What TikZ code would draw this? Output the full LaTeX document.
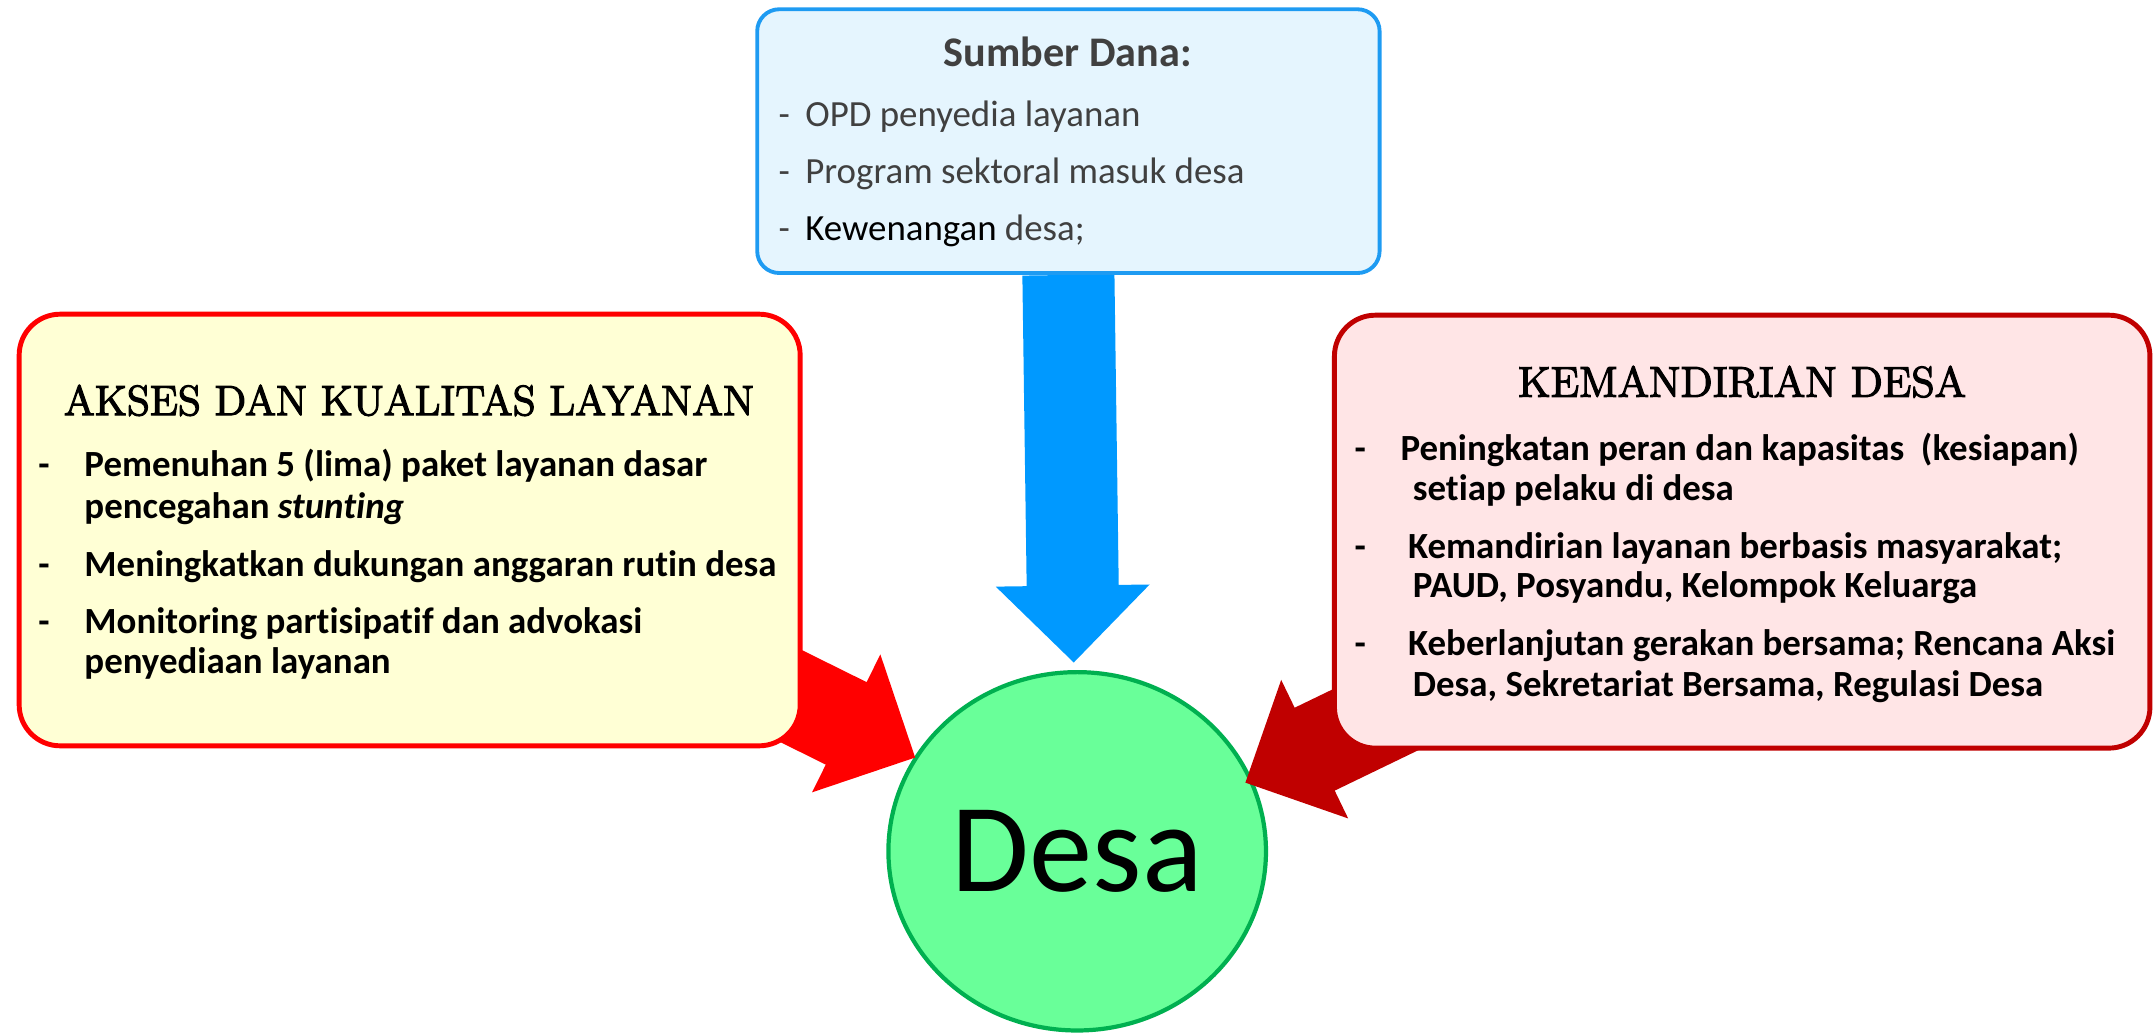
\documentclass[tikz,border=0pt]{standalone}
\usepackage{fontspec}
\setmainfont{Latin Modern Roman}
\newfontfamily\carlito[Ligatures={NoCommon,NoRare,NoContextual}]{Carlito}
\newfontfamily\titleserif[FakeBold=3]{Latin Modern Roman}
\usetikzlibrary{shapes.geometric,calc}

\pgfdeclarelayer{back}
\pgfdeclarelayer{mid}
\pgfsetlayers{back,mid,main}

\definecolor{fundline}{HTML}{1E9BF2}
\definecolor{fundfill}{HTML}{E5F5FE}
\definecolor{fundarrow}{HTML}{0099FF}
\definecolor{accessline}{HTML}{FF0000}
\definecolor{accessfill}{HTML}{FFFFD5}
\definecolor{selfline}{HTML}{C00000}
\definecolor{selffill}{HTML}{FFE5E6}
\definecolor{villagefill}{HTML}{69FF99}
\definecolor{villageline}{HTML}{00B050}
\definecolor{textgray}{HTML}{404040}

\tikzset{
  panel/.style={rectangle, rounded corners=0.41cm, inner sep=0pt},
  itemtext/.style={inner sep=0pt, anchor=base west,
    font=\carlito\bfseries\fontsize{10.5}{12}\selectfont},
  fundtext/.style={inner sep=0pt, anchor=base west, text=textgray,
    font=\carlito\fontsize{10.5}{12}\selectfont},
  headserif/.style={inner sep=0pt, anchor=base},
}

% block arrow: #1 colour, #2 tail, #3 tip (shaft 26.2pt wide, head 43.8pt wide, 21.9pt long)
\newcommand\fatarrow[3]{%
  \path ($(#3)!21.9pt!(#2)$) coordinate (#3-hb);
  \fill[#1] ($(#2)!13.1pt!-90:(#3)$) -- ($(#3-hb)!13.1pt!90:(#2)$)
    -- ($(#3-hb)!21.9pt!90:(#2)$) -- (#3) -- ($(#3-hb)!21.9pt!-90:(#2)$)
    -- ($(#3-hb)!13.1pt!-90:(#2)$) -- ($(#2)!13.1pt!90:(#3)$) -- cycle;}

\begin{document}
\begin{tikzpicture}[x=0.01373cm,y=-0.01373cm]
\useasboundingbox (0,0) rectangle (1568,752);

% central village node
\begin{pgfonlayer}{back}
\node[ellipse, draw=villageline, fill=villagefill, line width=1.2pt,
  minimum width=3.776cm, minimum height=3.584cm, inner sep=0pt,
  font=\carlito\fontsize{36}{40}\selectfont] (desa) at (784.5,620) {Desa};
\end{pgfonlayer}

% funding source panel
\node[panel, rounded corners=0.22cm, draw=fundline, fill=fundfill, line width=1.1pt,
  minimum width=6.225cm, minimum height=2.638cm] (fund) at (778.1,102.8) {};
\node[headserif, text=textgray, font=\carlito\bfseries\fontsize{12}{14}\selectfont]
  (fundhead) at (777.7,48.6) {Sumber Dana:};
\node[fundtext] (fd1) at (566.5,92.3) {-};
\node[fundtext] (fd2) at (566.5,133.5) {-};
\node[fundtext] (fd3) at (566.5,174.8) {-};
\node[fundtext] (f1) at (586,92.3) {OPD penyedia layanan};
\node[fundtext] (f2) at (586,133.5) {Program sektoral masuk desa};
\node[fundtext] (f3) at (586,174.8) {\textcolor{black}{Kewenangan} desa;};

% access and quality panel
\node[panel, draw=accessline, fill=accessfill, line width=1.4pt,
  minimum width=7.811cm, minimum height=4.317cm] (akses) at (298.35,386) {};
\node[headserif, font=\titleserif\fontsize{12}{14}\selectfont] (aksesHead) at (297.8,302.3)
  {AKSES DAN KUALITAS LAYANAN};
\node[itemtext] (ad1) at (27.5,347.2) {-};
\node[itemtext] (ad2) at (27.5,419.5) {-};
\node[itemtext] (ad3) at (27.5,461.3) {-};
\node[itemtext] (a1a) at (61,347.2) {Pemenuhan 5 (lima) paket layanan dasar};
\node[itemtext] (a1b) at (61,377.5) {pencegahan \textit{stunting}};
\node[itemtext] (a2) at (61,419.5) {Meningkatkan dukungan anggaran rutin desa};
\node[itemtext] (a3a) at (61,461.3) {Monitoring partisipatif dan advokasi};
\node[itemtext] (a3b) at (61,490.4) {penyediaan layanan};

% village self-reliance panel
\node[panel, draw=selfline, fill=selffill, line width=1.4pt,
  minimum width=8.156cm, minimum height=4.330cm] (mandiri) at (1268.8,387.2) {};
\node[headserif, font=\titleserif\fontsize{12.2}{14}\selectfont] (mandiriHead) at (1268.7,288.9)
  {KEMANDIRIAN DESA};
\node[itemtext] (md1) at (986,335.5) {-};
\node[itemtext] (md2) at (986,406.6) {-};
\node[itemtext] (md3) at (986,477.5) {-};
\node[itemtext] (m1a) at (1019.5,335.5) {Peningkatan peran dan kapasitas\ \ (kesiapan)};
\node[itemtext] (m1b) at (1028.5,364.2) {setiap pelaku di desa};
\node[itemtext] (m2a) at (1025,406.6) {Kemandirian layanan berbasis masyarakat;};
\node[itemtext] (m2b) at (1028.5,435.3) {PAUD, Posyandu, Kelompok Keluarga};
\node[itemtext] (m3a) at (1025,477.5) {Keberlanjutan gerakan bersama; Rencana Aksi};
\node[itemtext] (m3b) at (1028.5,506.9) {Desa, Sekretariat Bersama, Regulasi Desa};

% arrow tails inside the side panels and tips at the village node
\coordinate (ltail) at (523.1,480.7);
\coordinate (rtail) at (1051,500.4);
\coordinate (tipB) at (782,482.5);
\coordinate (tipL) at (666.5,551.7);
\coordinate (tipR) at (907,570);

\begin{pgfonlayer}{mid}
\fatarrow{fundarrow}{fund.south}{tipB}
\fatarrow{accessline}{ltail}{tipL}
\fatarrow{selfline}{rtail}{tipR}
\end{pgfonlayer}
\end{tikzpicture}
\end{document}
